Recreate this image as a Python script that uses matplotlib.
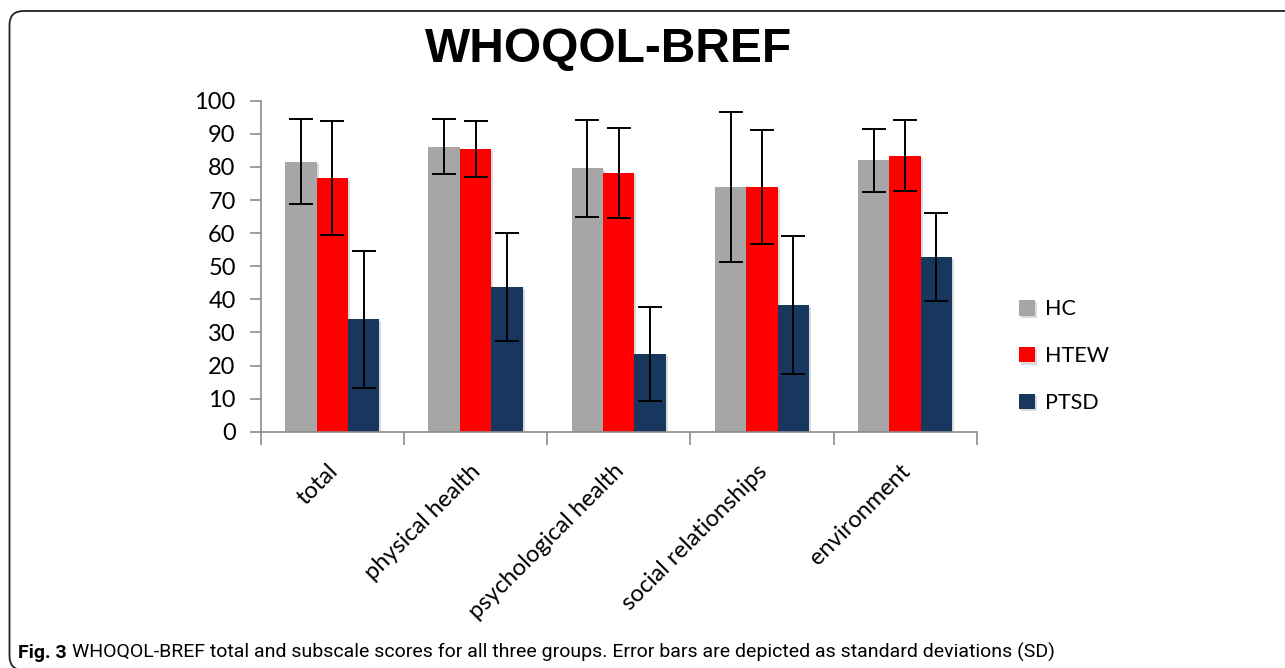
import numpy as np
import matplotlib
matplotlib.use("Agg")
import matplotlib.pyplot as plt
import matplotlib.patheffects as pe
from matplotlib.patches import FancyBboxPatch
from matplotlib.transforms import IdentityTransform, ScaledTranslation

# WHOQOL-BREF scores (mean and SD) per group
domains = ["total", "physical health", "psychological health",
           "social relationships", "environment"]
groups = ["HC", "HTEW", "PTSD"]
hc_mean = [81.6, 86.1, 79.6, 73.9, 82.0]
hc_sd = [12.9, 8.3, 14.6, 22.6, 9.6]
htew_mean = [76.6, 85.4, 78.1, 73.9, 83.4]
htew_sd = [17.3, 8.4, 13.6, 17.2, 10.7]
ptsd_mean = [34.0, 43.7, 23.5, 38.3, 52.7]
ptsd_sd = [20.7, 16.3, 14.2, 20.8, 13.3]
colors = ["#a6a6a6", "#ff0000", "#17375e"]

plt.rcParams["font.family"] = ["Lato", "DejaVu Sans"]

fig = plt.figure(figsize=(12.85, 6.68), dpi=100)
ax = fig.add_axes([0.2029, 0.3537, 0.5572, 0.4955])

x = np.arange(len(domains))
w = 0.219
shadow = [pe.SimplePatchShadow(offset=(1.5, -1.5), shadow_rgbFace="#999999", alpha=0.35),
          pe.Normal()]
for i, (m, s) in enumerate([(hc_mean, hc_sd), (htew_mean, htew_sd), (ptsd_mean, ptsd_sd)]):
    pos = x + (i - 1) * w
    bars = ax.bar(pos, m, width=w, color=colors[i], label=groups[i], zorder=2)
    for b in bars:
        b.set_path_effects(shadow)
    ax.errorbar(pos, m, yerr=s, fmt="none", ecolor="black", elinewidth=1.4,
                capsize=8.5, capthick=1.4, zorder=3)

ax.set_xlim(-0.5, len(domains) - 0.5)
ax.set_ylim(0, 100)
ax.set_yticks(range(0, 101, 10))
ax.tick_params(axis="y", length=8, color="#8c8c8c", width=1.2, labelsize=17, pad=10)

ax.set_xticks(x)
ax.set_xticklabels(domains, rotation=45, ha="right", va="center",
                   rotation_mode="anchor", fontsize=17)
ax.tick_params(axis="x", which="major", length=0, pad=26)
ax.set_xticks(np.arange(-0.5, len(domains)), minor=True)
ax.tick_params(axis="x", which="minor", length=9, color="#8c8c8c", width=1.2)
for lab in ax.get_xticklabels():
    lab.set_transform(lab.get_transform() + ScaledTranslation(0.02, 0, fig.dpi_scale_trans))

for side in ["top", "right"]:
    ax.spines[side].set_visible(False)
for side in ["left", "bottom"]:
    ax.spines[side].set_color("#8c8c8c")
    ax.spines[side].set_linewidth(1.2)

fig.text(0.4735, 0.926, "WHOQOL-BREF", fontsize=34.5, fontweight="bold",
         family=["Liberation Sans", "DejaVu Sans"], ha="center", va="center")

ax.legend(loc="center left", bbox_to_anchor=(0.778, 0.467),
          bbox_transform=fig.transFigure, frameon=False, fontsize=15.5,
          handlelength=0.75, handleheight=0.75, handletextpad=0.45,
          labelspacing=1.25)

# outer frame with rounded corners
frame = FancyBboxPatch((9.5, -2), 1300, 659, boxstyle="round,pad=0,rounding_size=14",
                       transform=IdentityTransform(), facecolor="none",
                       edgecolor="#222222", linewidth=1.3)
fig.patches.append(frame)

cap_font = ["Roboto", "DejaVu Sans"]
t = fig.text(0.014, 0.015, "Fig. 3", fontsize=14, fontweight="bold",
             family=cap_font, ha="left", va="baseline")
ax.annotate("WHOQOL-BREF total and subscale scores for all three groups. "
            "Error bars are depicted as standard deviations (SD)",
            xy=(1, 0), xycoords=t, xytext=(4, 0), textcoords="offset points",
            fontsize=14, family=cap_font, ha="left", va="bottom",
            annotation_clip=False)

fig.savefig("out.png", dpi=100)
